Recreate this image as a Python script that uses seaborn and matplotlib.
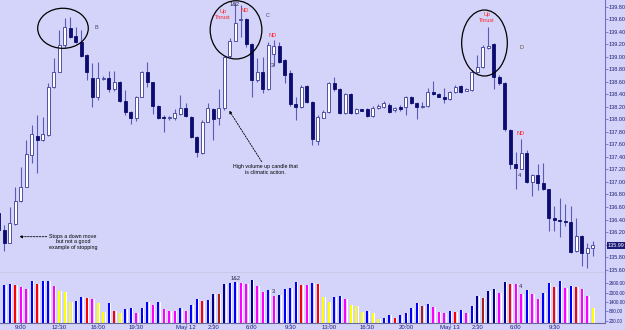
import numpy as np
import pandas as pd
import matplotlib
matplotlib.use('Agg')
import matplotlib.pyplot as plt
import matplotlib.transforms as mtrans
from matplotlib.patches import Ellipse
import seaborn as sns

# ---------------- data ----------------
bar_index = list(range(-1, 108))
opens = [136.51, 136.24, 136.02, 136.33, 136.69, 136.92, 137.43, 137.73, 137.67, 137.75,
         138.51, 138.76, 139.19, 139.46, 139.33, 139.24, 139.03, 138.66, 138.36, 138.65,
         138.66, 138.48, 138.60, 138.30, 138.11, 138.03, 138.36, 138.75, 138.59, 138.21,
         138.03, 138.03, 138.02, 138.09, 138.18, 138.04, 137.72, 137.47, 137.96, 138.16,
         138.02, 138.18, 139.01, 139.26, 139.58, 139.60, 139.21, 138.63, 138.75, 138.48,
         139.04, 139.18, 138.95, 138.74, 138.25, 138.20, 138.53, 138.28, 137.66, 138.03,
         138.12, 138.58, 138.48, 138.10, 138.41, 138.10, 138.16, 138.16, 138.05, 138.18,
         138.19, 138.23, 138.15, 138.19, 138.19, 138.35, 138.26, 138.19, 138.21, 138.44,
         138.41, 138.36, 138.32, 138.43, 138.53, 138.46, 138.47, 138.75, 138.83, 139.14,
         139.20, 138.67, 138.58, 137.83, 137.28, 137.20, 137.47, 137.00, 137.11, 136.98,
         136.88, 136.43, 136.39, 136.38, 136.36, 135.89, 136.14, 135.86, 135.94]
closes = [136.24, 136.02, 136.34, 136.69, 136.92, 137.45, 137.77, 137.67, 137.77, 138.52,
          138.76, 139.19, 139.47, 139.32, 139.24, 139.01, 138.75, 138.36, 138.66, 138.66,
          138.48, 138.60, 138.30, 138.11, 138.03, 138.36, 138.75, 138.59, 138.21, 138.03,
          138.02, 138.03, 138.10, 138.18, 138.05, 137.72, 137.48, 137.96, 138.18, 138.00,
          138.18, 138.99, 139.26, 139.54, 139.60, 139.20, 138.63, 138.75, 138.48, 139.19,
          139.18, 138.92, 138.71, 138.25, 138.20, 138.51, 138.28, 137.68, 138.04, 138.12,
          138.58, 138.48, 138.10, 138.41, 138.10, 138.16, 138.14, 138.05, 138.18, 138.21,
          138.26, 138.12, 138.18, 138.17, 138.35, 138.26, 138.19, 138.21, 138.44, 138.41,
          138.36, 138.33, 138.43, 138.52, 138.44, 138.48, 138.76, 138.83, 139.15, 139.17,
          138.68, 138.58, 137.84, 137.28, 137.22, 137.47, 137.00, 137.11, 136.98, 136.88,
          136.43, 136.39, 136.38, 136.36, 135.88, 136.14, 135.86, 135.94, 135.99]
highs = [136.58, 136.31, 136.60, 136.92, 137.24, 137.67, 137.91, 138.07, 138.04, 138.58,
         138.98, 139.43, 139.62, 139.64, 139.47, 139.43, 139.05, 138.90, 138.92, 138.69,
         138.78, 138.78, 138.61, 138.47, 138.13, 138.37, 138.78, 138.92, 138.60, 138.23,
         138.07, 138.05, 138.16, 138.39, 138.26, 138.05, 137.73, 137.99, 138.26, 138.18,
         138.48, 139.01, 139.30, 139.88, 139.83, 139.62, 139.22, 138.98, 138.99, 139.24,
         139.27, 139.24, 138.97, 138.79, 138.36, 138.55, 138.55, 138.29, 138.07, 138.15,
         138.60, 138.68, 138.50, 138.42, 138.42, 138.18, 138.17, 138.18, 138.21, 138.24,
         138.29, 138.26, 138.19, 138.23, 138.37, 138.37, 138.28, 138.27, 138.50, 138.62,
         138.42, 138.50, 138.45, 138.55, 138.55, 138.50, 138.79, 139.03, 139.19, 139.48,
         139.22, 138.71, 138.60, 137.85, 137.48, 137.68, 137.51, 137.13, 137.29, 137.30,
         136.89, 136.62, 136.74, 136.65, 136.61, 136.42, 136.15, 136.02, 136.05]
lows = [136.20, 135.89, 136.02, 136.31, 136.68, 136.92, 137.30, 137.14, 137.66, 137.73,
        138.50, 138.76, 139.14, 139.30, 139.22, 138.99, 138.63, 138.19, 138.31, 138.63,
        138.44, 138.46, 138.28, 138.07, 137.93, 137.98, 138.36, 138.52, 138.09, 138.00,
        137.80, 137.99, 137.99, 138.07, 138.04, 137.70, 137.40, 137.45, 137.96, 137.67,
        137.91, 138.15, 138.98, 139.25, 139.32, 139.16, 138.36, 138.60, 138.42, 138.47,
        138.85, 138.90, 138.58, 138.21, 137.99, 138.18, 138.26, 137.59, 137.59, 138.02,
        138.10, 138.45, 138.09, 138.09, 138.09, 138.09, 138.13, 138.04, 138.04, 138.16,
        138.18, 138.10, 138.12, 138.13, 138.07, 138.25, 138.00, 138.18, 138.20, 138.39,
        138.36, 138.26, 138.31, 138.42, 138.42, 138.45, 138.45, 138.74, 138.82, 139.13,
        138.48, 138.55, 137.81, 137.20, 136.88, 137.20, 136.99, 136.78, 136.87, 136.87,
        136.21, 136.21, 136.12, 136.29, 135.87, 135.88, 135.65, 135.62, 135.82]

vol_index = list(range(0, 108))
volumes = [2474, 2537, 2474, 2328, 2221, 2726, 2537, 2726, 2726, 2429,
           2095, 2050, 1419, 1482, 1735, 1634, 1571, 1318, 787, 1356,
           850, 686, 939, 1002, 724, 1002, 1419, 1210, 1419, 958,
           850, 850, 1002, 813, 1210, 1590, 1456, 1526, 1905, 1886,
           2537, 2619, 2682, 2619, 2537, 2790, 2410, 2013, 2158, 1798,
           1842, 2221, 2265, 2663, 2474, 2474, 2619, 2537, 1697, 1419,
           1735, 1779, 1571, 1210, 1147, 787, 813, 724, 326, 408,
           560, 408, 579, 724, 1040, 1356, 1166, 1274, 1065, 768,
           686, 850, 787, 894, 724, 1147, 1798, 1634, 2114, 2221,
           1950, 2644, 2537, 2537, 1905, 2158, 1905, 1571, 1950, 2581,
           2328, 2726, 2303, 2410, 2366, 2202, 1798, 1002]
vol_colors = ['B', 'B', 'R', 'M', 'M', 'B', 'R', 'B', 'B', 'M',
              'Y', 'Y', 'Y', 'B', 'B', 'R', 'M', 'Y', 'Y', 'B',
              'R', 'Y', 'B', 'B', 'M', 'B', 'B', 'M', 'B', 'M',
              'M', 'M', 'B', 'M', 'B', 'B', 'R', 'B', 'N', 'D',
              'N', 'B', 'B', 'M', 'M', 'N', 'M', 'M', 'B', 'M',
              'N', 'B', 'B', 'B', 'R', 'M', 'B', 'R', 'Y', 'Y',
              'B', 'B', 'M', 'Y', 'Y', 'Y', 'B', 'Y', 'Y', 'B',
              'B', 'R', 'B', 'B', 'B', 'B', 'D', 'B', 'M', 'M',
              'M', 'B', 'R', 'B', 'M', 'B', 'N', 'D', 'N', 'N',
              'M', 'N', 'R', 'M', 'M', 'B', 'M', 'M', 'B', 'B',
              'R', 'B', 'M', 'B', 'R', 'M', 'M', 'Y']

time_tick_pos = [3, 10, 17, 24, 33, 38, 45, 52, 59, 66, 73, 81, 86, 93, 100]
time_tick_labels = ['9:00', '12:30', '16:00', '19:30', 'May 12', '2:30', '6:00', '9:30',
                    '13:00', '16:30', '20:00', 'May 13', '2:30', '6:00', '9:30']
price_ticks = [135.6, 135.8, 136.0, 136.2, 136.4, 136.6, 136.8, 137.0, 137.2, 137.4,
               137.6, 137.8, 138.0, 138.2, 138.4, 138.6, 138.8, 139.0, 139.2, 139.4,
               139.6, 139.8]
vol_ticks = [200, 800, 1400, 2000, 2600]

# ---------------- style ----------------
BG = '#D4D4FA'
NAVY = '#0C0C70'
WICK = '#5A5AB8'
AXC = '#7070C0'
TXT = '#1E1E78'
sns.set_theme(style='white', rc={'axes.facecolor': BG, 'figure.facecolor': BG})
plt.rcParams['font.family'] = ['Liberation Sans', 'DejaVu Sans']

fig = plt.figure(figsize=(6.25, 3.3), dpi=100)
W, H = 625.0, 330.0
ax = fig.add_axes([0, 1 - 272.5 / H, 605 / W, 272.5 / H])
axv = fig.add_axes([0, 1 - 322.5 / H, 605 / W, 49.5 / H])

x = np.array(bar_index, dtype=float)
o = np.array(opens); c = np.array(closes); hi = np.array(highs); lo = np.array(lows)
up = c >= o

# candles
ax.vlines(x, lo, hi, color=WICK, lw=0.8, zorder=1)
body_bottom = np.minimum(o, c)
body_h = np.maximum(np.abs(c - o), 0.012)
ax.bar(x[up], body_h[up], bottom=body_bottom[up], width=0.55, color='white',
       edgecolor='#3A3A96', linewidth=0.6, zorder=2)
ax.bar(x[~up], body_h[~up], bottom=body_bottom[~up], width=0.55, color=NAVY,
       edgecolor=NAVY, linewidth=0.6, zorder=2)

ax.set_xlim(-0.782, 109.22)
ax.set_ylim(135.554, 139.907)

# volume
pal = {'B': '#0000FF', 'N': '#00008C', 'R': '#FF0000', 'D': '#A82018', 'M': '#FF00FF', 'Y': '#FFFF00'}
vx = np.array(vol_index, dtype=float)
df = pd.DataFrame({'i': vx, 'vol': volumes, 'c': vol_colors})
sns.barplot(data=df, x='i', y='vol', hue='c', palette=pal, native_scale=True, width=0.42,
            dodge=False, legend=False, errorbar=None, saturation=1, ax=axv,
            linewidth=0, antialiased=False)
for p in axv.patches:
    p.set_alpha(1)
    p.set_zorder(3)
axv.bar(vx + 0.32, volumes, width=0.2, color='white', linewidth=0, antialiased=False, zorder=2)
axv.set_xlim(-0.782, 109.22)
axv.set_ylim(105, 3232)
axv.set_xlabel(''); axv.set_ylabel('')

# axes styling
for a in (ax, axv):
    a.grid(False)
    a.spines['top'].set_visible(False)
    a.spines['left'].set_visible(False)
    a.spines['right'].set_color(AXC)
    a.spines['right'].set_linewidth(0.8)
    a.yaxis.tick_right()
    a.tick_params(axis='y', direction='out', length=2.0, width=0.6, pad=0.6,
                  labelsize=4.0, colors=AXC, labelcolor=TXT)
axv.tick_params(axis='y', labelsize=3.4, pad=0.4)
ax.spines['bottom'].set_color('#A0A0AC')
ax.spines['bottom'].set_linewidth(1.0)
ax.set_xticks([])
axv.spines['bottom'].set_color('#6A6A9A')
axv.spines['bottom'].set_linewidth(0.8)

ax.set_yticks(price_ticks)
ax.set_yticklabels([f'{v:.2f}' for v in price_ticks])
axv.set_yticks(vol_ticks)
axv.set_yticklabels([f'{v:.2f}' for v in vol_ticks])
axv.set_xticks(time_tick_pos)
axv.set_xticklabels(time_tick_labels)
axv.tick_params(axis='x', direction='out', length=1.5, width=0.6, pad=0.5,
                labelsize=4.3, colors=AXC, labelcolor=TXT, bottom=True)

# current price label
tr = mtrans.blended_transform_factory(ax.transAxes, ax.transData)
ax.text(1.004, closes[-1], '135.99', transform=tr, fontsize=4.0, color='white',
        va='center', ha='left', clip_on=False,
        bbox=dict(boxstyle='square,pad=0.15', fc='#1A1A78', ec='none'))

# ellipses
for (cx, cy, ew, eh) in [(10.67, 139.455, 9.2, 0.64), (42.13, 139.43, 9.4, 0.93), (87.31, 139.22, 8.3, 1.054)]:
    ax.add_patch(Ellipse((cx, cy), ew, eh, fill=False, ec='black', lw=0.9, zorder=5))

# annotations
fs = 4.0
ax.text(16.8, 139.465, 'B', fontsize=fs, color='#44446A', ha='center', va='center')
ax.text(41.95, 139.843, '1&2', fontsize=fs, color='#202040', ha='center', va='center')
ax.text(39.8, 139.675, 'Up\nThrust', fontsize=fs, color='#FF2020', ha='center', va='center', linespacing=1.1)
ax.text(43.64, 139.747, 'ND', fontsize=fs, color='#FF2020', ha='center', va='center')
ax.text(47.9, 139.656, 'C', fontsize=fs, color='#44446A', ha='center', va='center')
ax.text(48.73, 139.332, 'ND', fontsize=fs, color='#FF2020', ha='center', va='center')
ax.text(48.73, 138.857, '3', fontsize=fs, color='#202040', ha='center', va='center')
ax.text(87.7, 139.63, 'Up\nThrust', fontsize=fs, color='#FF2020', ha='center', va='center', linespacing=1.1)
ax.text(94.0, 139.145, 'D', fontsize=fs, color='#6B4A2A', ha='center', va='center')
ax.text(93.95, 137.767, 'ND', fontsize=fs, color='#FF2020', ha='center', va='center')
ax.text(93.6, 137.10, '4', fontsize=fs, color='#202040', ha='center', va='center')

ax.text(12.49, 136.046, 'Stops a down move\nbut not a good\nexample of stopping', fontsize=3.9,
        color='black', ha='center', va='center', linespacing=1.15)
ax.annotate('', xy=(2.73, 136.126), xytext=(7.71, 136.126),
            arrowprops=dict(arrowstyle='-|>', ls=(0, (2, 1.5)), lw=0.6, color='black',
                            mutation_scale=4, shrinkA=0, shrinkB=0))
ax.text(47.49, 137.196, 'High volume up candle that\nis climatic action.', fontsize=3.8,
        color='black', ha='center', va='center', linespacing=1.2)
ax.annotate('', xy=(40.9, 138.139), xytext=(46.8, 137.324),
            arrowprops=dict(arrowstyle='-|>', ls=(0, (2, 1.5)), lw=0.6, color='black',
                            mutation_scale=4, shrinkA=0, shrinkB=0))

axv.text(42.13, 2897, '1&2', fontsize=fs, color='#202040', ha='center', va='center')
axv.text(48.9, 2050, '3', fontsize=fs, color='#202040', ha='center', va='center')
axv.text(93.76, 2410, '4', fontsize=fs, color='#202040', ha='center', va='center')

fig.savefig('out.png', dpi=100, facecolor=BG)
